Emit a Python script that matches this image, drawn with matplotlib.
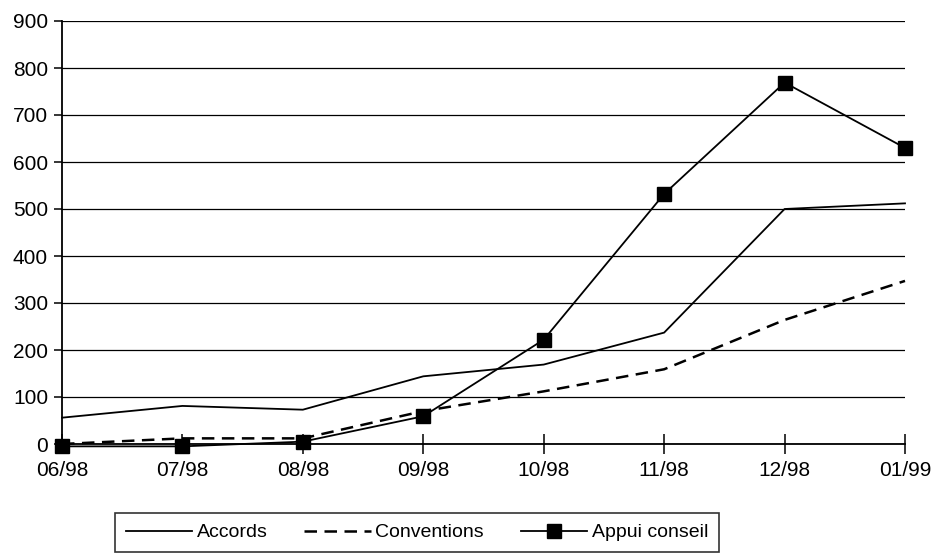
import numpy as np
import matplotlib
matplotlib.use('Agg')
import matplotlib.pyplot as plt

plt.rcParams['font.family'] = ['Liberation Sans', 'DejaVu Sans']

months = ['06/98', '07/98', '08/98', '09/98', '10/98', '11/98', '12/98', '01/99']
accords = [56, 81, 73, 144, 169, 237, 500, 512]
conventions = [0, 12, 12, 70, 112, 159, 264, 347]
appui_conseil = [-5, -5, 5, 59, 222, 532, 769, 630]

fig = plt.figure(figsize=(9.35, 5.53), dpi=100)
ax = fig.add_axes([62 / 935, 1 - 444 / 553, (905 - 62) / 935, (444 - 21) / 553])

x = np.arange(len(months))
ax.plot(x, accords, '-', color='black', lw=1.3, label='Accords')
ax.plot(x, conventions, '--', color='black', lw=1.8, dashes=(5, 3), label='Conventions')
ax.plot(x, appui_conseil, '-', color='black', lw=1.3, marker='s', markersize=9.5,
        label='Appui conseil')

ax.set_xlim(0, len(months) - 1)
ax.set_ylim(0, 900)
ax.set_yticks(np.arange(0, 901, 100))
ax.set_xticks(x)
ax.set_xticklabels(months)
ax.yaxis.grid(True, color='black', lw=0.9)
ax.set_axisbelow(True)

for side in ['top', 'right']:
    ax.spines[side].set_visible(False)
ax.spines['left'].set_linewidth(1.3)
ax.spines['bottom'].set_linewidth(1.3)
ax.spines['bottom'].set_position(('data', 0))
ax.tick_params(axis='y', direction='out', length=6, width=1.1, labelsize=15, pad=4)
ax.tick_params(axis='x', direction='inout', length=14, width=1.1, labelsize=15, pad=5)
for line in ax.lines:
    line.set_clip_on(False)

leg = fig.legend(loc='upper left', bbox_to_anchor=(115 / 935, 1 - 513 / 553), ncol=3,
                 frameon=True, fancybox=False, edgecolor='black', fontsize=14,
                 handlelength=3.4, handletextpad=0.25, columnspacing=1.9,
                 borderpad=0.55, borderaxespad=0)
leg.get_frame().set_linewidth(1.2)

plt.savefig('out.png', dpi=100)
